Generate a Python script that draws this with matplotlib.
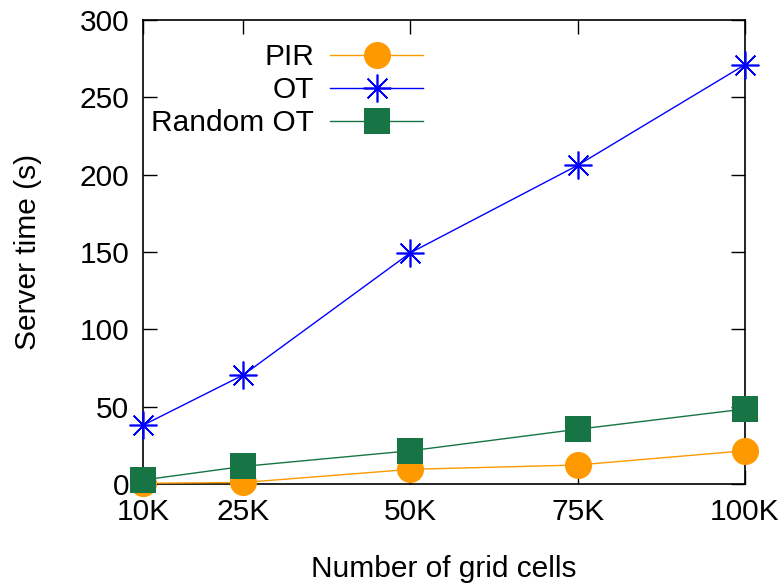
import numpy as np
import matplotlib.pyplot as plt

plt.rcParams['font.family'] = ['Liberation Sans', 'DejaVu Sans']

# data
cells = [10, 25, 50, 75, 100]
tick_labels = ["10K", "25K", "50K", "75K", "100K"]
pir = [0.5, 1.0, 9.5, 12.3, 21.5]
ot = [38, 70.5, 149.5, 206, 271]
random_ot = [2.6, 11.4, 21.5, 35.4, 48.5]

fs = 21.5

fig = plt.figure(figsize=(7.84, 5.86), dpi=100)
ax = fig.add_axes([0.1824, 0.174, 0.7676, 0.792])

ax.plot(cells, pir, color="#ff9900", lw=1, marker="o", ms=19.5,
        markeredgewidth=0, label="PIR", clip_on=False, zorder=3)
ax.plot(cells, ot, color="#0000ff", lw=1, marker=(8, 2, 0), ms=20,
        markeredgewidth=1.2, label="OT", clip_on=False, zorder=3)
ax.plot(cells, random_ot, color="#177545", lw=1, marker="s", ms=19,
        markeredgewidth=0, label="Random OT", clip_on=False, zorder=4)

ax.set_xlim(10, 100)
ax.set_ylim(0, 300)
ax.set_xticks(cells)
ax.set_xticklabels(tick_labels)
ax.set_yticks(np.arange(0, 301, 50))
ax.tick_params(direction="in", top=True, right=True, length=10, width=1,
               labelsize=fs, pad=10)
for s in ax.spines.values():
    s.set_linewidth(1.2)

ax.set_xlabel("Number of grid cells", fontsize=fs, labelpad=21)
ax.set_ylabel("Server time (s)", fontsize=fs, labelpad=27)

ax.legend(loc="upper right", bbox_to_anchor=(423 / 784, 1 - 43 / 586),
          bbox_transform=fig.transFigure, frameon=False,
          markerfirst=False, fontsize=fs, handlelength=3.1,
          labelspacing=0.17, handletextpad=0.55, borderpad=0,
          borderaxespad=0)

fig.savefig("out.png", dpi=100)
